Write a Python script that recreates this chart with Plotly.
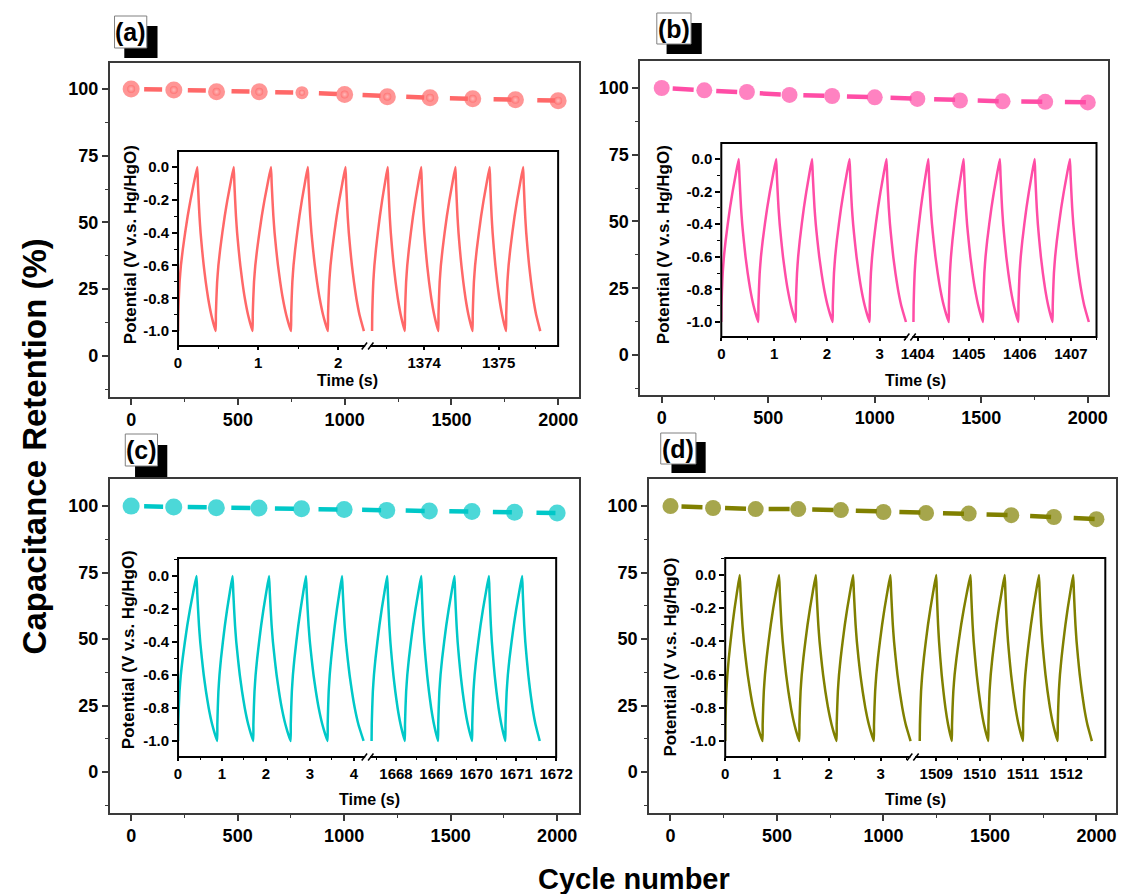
import plotly.graph_objects as go

# ---------------- data ----------------
cycles = [0, 200, 400, 600, 800, 1000, 1200, 1400, 1600, 1800, 2000]
retention_a = [100.0, 99.6, 98.9, 98.9, 98.6, 97.9, 97.1, 96.7, 96.3, 95.9, 95.6]
retention_b = [100.0, 99.1, 98.5, 97.4, 97.0, 96.5, 95.9, 95.3, 95.0, 94.8, 94.6]
retention_c = [100.0, 99.7, 99.4, 99.3, 99.0, 98.7, 98.4, 98.2, 98.0, 97.7, 97.4]
retention_d = [100.0, 99.3, 98.9, 98.9, 98.5, 97.8, 97.4, 97.2, 96.6, 95.9, 95.1]

# one charge / discharge branch (fraction of branch time -> potential)
charge_frac = [0.0, 0.01, 0.04, 0.08, 0.15, 0.25, 0.37, 0.50, 0.65, 0.82, 1.0]
charge_volt = [-1.0, -0.9, -0.8, -0.7, -0.6, -0.5, -0.4, -0.3, -0.2, -0.1, 0.0]
discharge_frac = [0.0, 0.035, 0.075, 0.12, 0.18, 0.26, 0.35, 0.46, 0.59, 0.76, 1.0]
discharge_volt = [0.0, -0.1, -0.2, -0.3, -0.4, -0.5, -0.6, -0.7, -0.8, -0.9, -1.0]

# turning points (min, peak, min, ...) of the GCD curves, seconds
turns_a_left = [0.0, 0.24, 0.47, 0.695, 0.93, 1.16, 1.41, 1.62, 1.87, 2.09, 2.32]
turns_a_right = [1373.30, 1373.51, 1373.74, 1373.96, 1374.19, 1374.42, 1374.65, 1374.88, 1375.10, 1375.33, 1375.56]
turns_b_left = [0.0, 0.33, 0.70, 1.04, 1.41, 1.72, 2.11, 2.43, 2.81, 3.13, 3.50]
turns_b_right = [1403.92, 1404.21, 1404.61, 1404.90, 1405.28, 1405.61, 1405.97, 1406.29, 1406.64, 1406.98, 1407.35]
turns_c_left = [0.0, 0.42, 0.89, 1.24, 1.71, 2.07, 2.56, 2.91, 3.40, 3.73, 4.22]
turns_c_right = [1667.39, 1667.78, 1668.22, 1668.63, 1669.05, 1669.46, 1669.90, 1670.32, 1670.73, 1671.15, 1671.59]
turns_d_left = [0.0, 0.28, 0.72, 1.04, 1.43, 1.75, 2.15, 2.47, 2.87, 3.19, 3.58]
turns_d_right = [1508.62, 1509.00, 1509.36, 1509.79, 1510.20, 1510.58, 1511.00, 1511.37, 1511.80, 1512.16, 1512.59]

# tick labels
outer_y_ticks = [0, 25, 50, 75, 100]
outer_x_ticks = [0, 500, 1000, 1500, 2000]
inset_y_vals = [0.0, -0.2, -0.4, -0.6, -0.8, -1.0]
inset_y_text = ["0.0", "-0.2", "-0.4", "-0.6", "-0.8", "-1.0"]
left_ticks_a = [0, 1, 2]
right_ticks_a = [1374, 1375]
left_ticks_b = [0, 1, 2, 3]
right_ticks_b = [1404, 1405, 1406, 1407]
left_ticks_c = [0, 1, 2, 3, 4]
right_ticks_c = [1668, 1669, 1670, 1671, 1672]
left_ticks_d = [0, 1, 2, 3]
right_ticks_d = [1509, 1510, 1511, 1512]

panel_labels = ["(a)", "(b)", "(c)", "(d)"]
x_title = "Cycle number"
y_title = "Capacitance Retention (%)"
inset_y_title = "Potential (V v.s. Hg/HgO)"
inset_x_title = "Time (s)"

# ---------------- layout / styling ----------------
W, H = 1135, 894
FONT = "Liberation Sans, Arial, Helvetica, sans-serif"
FRAME = "#3a3a3a"


def px2x(p):
    return p / W


def px2y(p):
    return 1 - p / H


panels = [
    dict(ret=retention_a, tl=turns_a_left, tr=turns_a_right, lt=left_ticks_a, rt=right_ticks_a,
         color="#FF6868", msize=17, dstart=13, dlen=18,
         box=(103, 63, 583, 397), xr=[-100.7, 2096], yr=[-15.4, 109.7],
         ibox=(173, 151, 562, 346), brk=367, lr=[0, 2.366], rr=[1373.24, 1375.8], iyr=[-1.091, 0.098],
         white=(108, 16, 141, 48), black=(118, 26, 152, 58),
         ytc=(124.5, 244.5), xtc=(346, 380)),
    dict(ret=retention_b, tl=turns_b_left, tr=turns_b_right, lt=left_ticks_b, rt=right_ticks_b,
         color="#FF4DA6", msize=16, dstart=11, dlen=21,
         box=(646, 61, 1125, 395), xr=[-100.9, 2096], yr=[-15.0, 110.1],
         ibox=(729, 143, 1113, 337), brk=922, lr=[0, 3.574], rr=[1403.85, 1407.5], iyr=[-1.092, 0.098],
         white=(663, 13, 698, 44), black=(673, 23, 709, 54),
         ytc=(670.5, 245), xtc=(928, 380)),
    dict(ret=retention_c, tl=turns_c_left, tr=turns_c_right, lt=left_ticks_c, rt=right_ticks_c,
         color="#00C8C8", msize=17, dstart=13, dlen=19,
         box=(103, 479, 583, 813), xr=[-100.9, 2101], yr=[-15.4, 110.2],
         ibox=(173, 558, 560, 757), brk=367, lr=[0, 4.311], rr=[1667.29, 1672.0], iyr=[-1.097, 0.109],
         white=(119, 434, 152, 466), black=(129, 445, 162, 477),
         ytc=(122.5, 649.5), xtc=(369, 799)),
    dict(ret=retention_d, tl=turns_d_left, tr=turns_d_right, lt=left_ticks_d, rt=right_ticks_d,
         color="#808000", msize=16, dstart=11, dlen=21,
         box=(655, 479, 1133, 813), xr=[-100.9, 2092], yr=[-15.4, 110.2],
         ibox=(733, 558, 1122, 757), brk=925, lr=[0, 3.623], rr=[1508.46, 1512.9], iyr=[-1.096, 0.102],
         white=(667, 433, 703, 464), black=(678, 442, 713, 473),
         ytc=(677.5, 656.5), xtc=(928, 799)),
]


def build(turns):
    xs, ys = [], []
    for k in range(len(turns) - 1):
        t0, t1 = turns[k], turns[k + 1]
        if k % 2 == 0:
            fr, vv = charge_frac, charge_volt
        else:
            fr, vv = discharge_frac, discharge_volt
        for j, (f, v) in enumerate(zip(fr, vv)):
            if k > 0 and j == 0:
                continue
            xs.append(t0 + f * (t1 - t0))
            ys.append(v)
    return xs, ys


def aname(prefix, n):
    return prefix + "axis" + ("" if n == 1 else str(n))


def tname(prefix, n):
    return prefix + ("" if n == 1 else str(n))


fig = go.Figure()
layout = dict(width=W, height=H, autosize=False, margin=dict(l=0, r=0, t=0, b=0),
              paper_bgcolor="white", plot_bgcolor="white", showlegend=False)
shapes, annotations = [], []

outer_tickfont = dict(family=FONT, size=18, color="black", weight="bold")
inset_tickfont = dict(family=FONT, size=15, color="black", weight="bold")

for i, p in enumerate(panels):
    ox, ilx, irx = 3 * i + 1, 3 * i + 2, 3 * i + 3
    oy, iy = 2 * i + 1, 2 * i + 2
    L, T, R, B = p["box"]
    iL, iT, iR, iB = p["ibox"]
    brk = p["brk"]

    spacing = 200 * (R - L) / (p["xr"][1] - p["xr"][0])
    gap2 = spacing - p["dstart"] - p["dlen"]
    dash = f"0px,{p['dstart']}px,{p['dlen']}px,{gap2:.2f}px"

    sizes = [p["msize"]] * len(cycles)
    if i == 0:
        sizes[4] = 13
    fig.add_trace(go.Scatter(x=cycles, y=p["ret"], mode="lines+markers",
                             xaxis=tname("x", ox), yaxis=tname("y", oy),
                             line=dict(color=p["color"], width=4.5, dash=dash),
                             marker=dict(size=sizes, color=p["color"], line=dict(width=0))))
    if i == 0:
        hs = [8] * len(cycles)
        hs[4] = 6
        fig.add_trace(go.Scatter(x=cycles, y=p["ret"], mode="markers",
                                 xaxis=tname("x", ox), yaxis=tname("y", oy),
                                 marker=dict(size=hs, color=p["color"], line=dict(width=0),
                                             gradient=dict(type="radial", color="#FFCACA"))))

    lx, ly = build(p["tl"])
    rx, ry = build(p["tr"])
    fig.add_trace(go.Scatter(x=lx, y=ly, mode="lines", xaxis=tname("x", ilx), yaxis=tname("y", iy),
                             line=dict(color=p["color"], width=2.5, shape="spline", smoothing=0.4)))
    fig.add_trace(go.Scatter(x=rx, y=ry, mode="lines", xaxis=tname("x", irx), yaxis=tname("y", iy),
                             line=dict(color=p["color"], width=2.5, shape="spline", smoothing=0.4)))

    # outer axes
    layout[aname("x", ox)] = dict(domain=[px2x(L), px2x(R)], range=p["xr"], anchor=tname("y", oy),
                                  showline=True, mirror=True, linecolor=FRAME, linewidth=1.5,
                                  ticks="outside", ticklen=6, tickwidth=1.5, tickcolor=FRAME,
                                  tickmode="array", tickvals=outer_x_ticks,
                                  ticktext=[str(v) for v in outer_x_ticks],
                                  minor=dict(dtick=250, tick0=0, ticks="outside", ticklen=3,
                                             tickwidth=1.2, tickcolor=FRAME),
                                  tickfont=outer_tickfont, showgrid=False, zeroline=False)
    layout[aname("y", oy)] = dict(domain=[px2y(B), px2y(T)], range=p["yr"], anchor=tname("x", ox),
                                  showline=True, mirror=True, linecolor=FRAME, linewidth=1.5,
                                  ticks="outside", ticklen=6, tickwidth=1.5, tickcolor=FRAME,
                                  tickmode="array", tickvals=outer_y_ticks,
                                  ticktext=[str(v) for v in outer_y_ticks],
                                  minor=dict(dtick=12.5, tick0=0, ticks="outside", ticklen=3,
                                             tickwidth=1.2, tickcolor=FRAME),
                                  tickfont=outer_tickfont, showgrid=False, zeroline=False)
    # inset axes
    layout[aname("y", iy)] = dict(domain=[px2y(iB), px2y(iT)], range=p["iyr"], anchor=tname("x", ilx),
                                  showline=False, ticks="outside", ticklen=5, tickwidth=1.5,
                                  tickcolor="black", tickmode="array", tickvals=inset_y_vals,
                                  ticktext=inset_y_text,
                                  minor=dict(dtick=0.1, tick0=0, ticks="outside", ticklen=3,
                                             tickwidth=1.2, tickcolor="black"),
                                  tickfont=inset_tickfont, showgrid=False, zeroline=False)
    layout[aname("x", ilx)] = dict(domain=[px2x(iL), px2x(brk)], range=p["lr"], anchor=tname("y", iy),
                                   showline=False, ticks="outside", ticklen=3, tickwidth=1.5,
                                   tickcolor="black", tickmode="array", tickvals=p["lt"],
                                   ticktext=[str(v) for v in p["lt"]],
                                   minor=dict(dtick=0.5, tick0=0, ticks="outside", ticklen=2,
                                              tickwidth=1.2, tickcolor="black"),
                                   tickfont=inset_tickfont, showgrid=False, zeroline=False)
    layout[aname("x", irx)] = dict(domain=[px2x(brk), px2x(iR)], range=p["rr"], anchor=tname("y", iy),
                                   showline=False, ticks="outside", ticklen=3, tickwidth=1.5,
                                   tickcolor="black", tickmode="array", tickvals=p["rt"],
                                   ticktext=[str(v) for v in p["rt"]],
                                   minor=dict(dtick=0.5, tick0=0, ticks="outside", ticklen=2,
                                              tickwidth=1.2, tickcolor="black"),
                                   tickfont=inset_tickfont, showgrid=False, zeroline=False)

    # inset frame
    shapes.append(dict(type="rect", xref="paper", yref="paper", x0=px2x(iL), x1=px2x(iR),
                       y0=px2y(iB), y1=px2y(iT), line=dict(color="black", width=2),
                       fillcolor="rgba(0,0,0,0)", layer="above"))
    # axis break marks
    shapes.append(dict(type="rect", xref="paper", yref="paper", x0=px2x(brk - 2.5), x1=px2x(brk + 2.5),
                       y0=px2y(iB + 1.6), y1=px2y(iB - 1.6), line=dict(width=0), fillcolor="white",
                       layer="above"))
    for off in (-6, 0.5):
        shapes.append(dict(type="line", xref="paper", yref="paper",
                           x0=px2x(brk + off), y0=px2y(iB + 3.5),
                           x1=px2x(brk + off + 5.5), y1=px2y(iB - 3.5),
                           line=dict(color="black", width=1.5), layer="above"))
    # panel label
    bx0, by0, bx1, by1 = p["black"]
    shapes.append(dict(type="rect", xref="paper", yref="paper", x0=px2x(bx0), x1=px2x(bx1),
                       y0=px2y(by1), y1=px2y(by0), line=dict(width=0), fillcolor="black", layer="above"))
    wx0, wy0, wx1, wy1 = p["white"]
    shapes.append(dict(type="rect", xref="paper", yref="paper", x0=px2x(wx0), x1=px2x(wx1),
                       y0=px2y(wy1), y1=px2y(wy0), line=dict(width=1, color="#808080"),
                       fillcolor="white", layer="above"))
    annotations.append(dict(text=panel_labels[i], xref="paper", yref="paper",
                            x=px2x((wx0 + wx1) / 2), y=px2y((wy0 + wy1) / 2 + 0.5),
                            xanchor="center", yanchor="middle", showarrow=False,
                            font=dict(family=FONT, size=25, color="black", weight="bold")))
    # inset titles
    annotations.append(dict(text=inset_y_title, xref="paper", yref="paper",
                            x=px2x(p["ytc"][0]), y=px2y(p["ytc"][1]), textangle=-90,
                            xanchor="center", yanchor="middle", showarrow=False,
                            font=dict(family=FONT, size=17, color="black", weight="bold")))
    annotations.append(dict(text=inset_x_title, xref="paper", yref="paper",
                            x=px2x(p["xtc"][0]), y=px2y(p["xtc"][1]),
                            xanchor="center", yanchor="middle", showarrow=False,
                            font=dict(family=FONT, size=16, color="black", weight="bold")))

annotations.append(dict(text=x_title, xref="paper", yref="paper", x=px2x(640), y=px2y(879),
                        xanchor="center", yanchor="middle", showarrow=False,
                        font=dict(family=FONT, size=29, color="black", weight="bold")))
annotations.append(dict(text=y_title, xref="paper", yref="paper", x=px2x(26), y=px2y(446),
                        textangle=-90, xanchor="center", yanchor="middle", showarrow=False,
                        font=dict(family=FONT, size=33, color="black", weight="bold")))

layout["shapes"] = shapes
layout["annotations"] = annotations
fig.update_layout(**layout)

page_js = (
    "document.documentElement.style.margin='0';document.body.style.margin='0';"
    "document.body.style.padding='0';document.documentElement.style.overflow='hidden';"
    "document.body.style.overflow='hidden';"
    "var gd=document.getElementById('{plot_id}');"
    "gd.style.width='1135px';gd.style.height='894px';"
    "Plotly.relayout(gd,{width:1135,height:894});"
)
fig.write_html("out.html", config={"responsive": False, "displayModeBar": False},
               post_script=page_js)
